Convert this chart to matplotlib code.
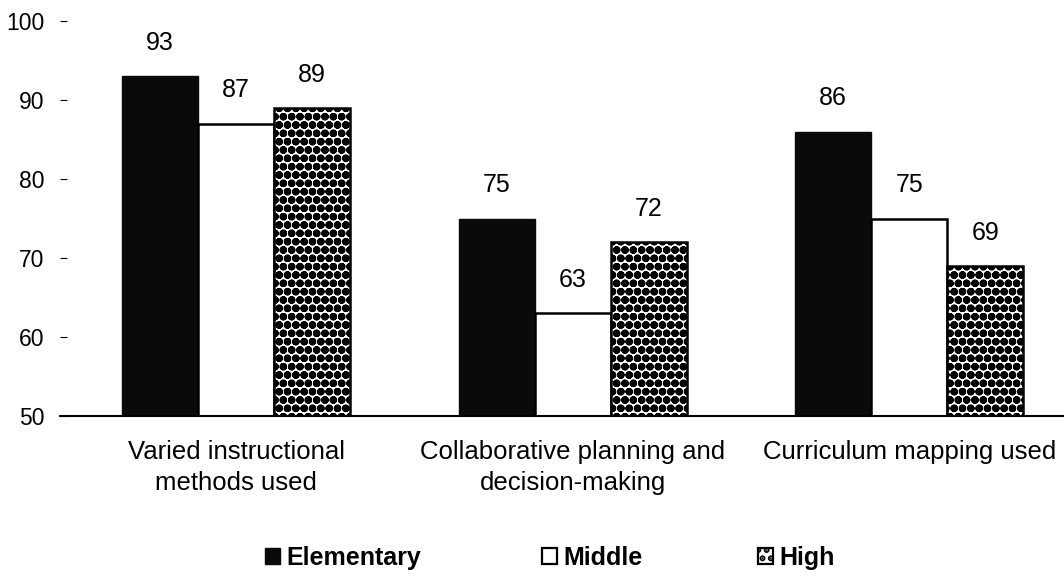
import matplotlib
matplotlib.use("Agg")
import matplotlib.pyplot as plt
from matplotlib.patches import Patch
import numpy as np

categories = ["Varied instructional\nmethods used",
              "Collaborative planning and\ndecision-making",
              "Curriculum mapping used"]
series = ["Elementary", "Middle", "High"]
elementary = [93, 75, 86]
middle = [87, 63, 75]
high = [89, 72, 69]
yticks = [50, 60, 70, 80, 90, 100]

plt.rcParams.update({"font.family": ["Liberation Sans", "DejaVu Sans"],
                     "hatch.linewidth": 3.0, "hatch.color": "black"})

fig = plt.figure(figsize=(10.64, 5.77), dpi=100)
ax = fig.add_axes([60 / 1064, 1 - 416 / 577, 1004 / 1064, 395 / 577])

x = np.arange(len(categories))
w = 0.226
styles = [dict(facecolor="#0a0a0a", edgecolor="#0a0a0a", linewidth=1),
          dict(facecolor="white", edgecolor="black", linewidth=1.8),
          dict(facecolor="white", edgecolor="black", hatch="oo", linewidth=1.8)]

for i, (vals, st) in enumerate(zip([elementary, middle, high], styles)):
    bars = ax.bar(x + (i - 1) * w, [v - 50 for v in vals], w, bottom=50, **st)
    for b, v in zip(bars, vals):
        ax.annotate(f"{v}", (b.get_x() + b.get_width() / 2, v),
                    xytext=(0, 24), textcoords="offset points",
                    ha="center", va="center", fontsize=18)

ax.set_xlim(-0.523, 2.46)
ax.set_ylim(50, 100)
ax.set_yticks(yticks)
ax.set_xticks(x)
ax.set_xticklabels(categories, fontsize=18.5, linespacing=1.4)
ax.tick_params(axis="x", length=0, pad=17)
ax.tick_params(axis="y", direction="in", length=5, width=0.8, pad=11, labelsize=16.5)
for s in ["top", "right", "left"]:
    ax.spines[s].set_visible(False)
ax.spines["bottom"].set_linewidth(1.5)
ax.patch.set_alpha(0)

handles = [Patch(**styles[0]),
           Patch(facecolor="white", edgecolor="black", linewidth=1.6),
           Patch(facecolor="white", edgecolor="black", hatch="..", linewidth=1.6)]
xs = [265, 542, 758]
for h, name, xp in zip(handles, series, xs):
    fig.legend(handles=[h], labels=[name], loc="center left",
               bbox_to_anchor=(xp / 1064, 1 - 558 / 577), frameon=False,
               handlelength=0.6, handleheight=0.6, handletextpad=0.25,
               borderpad=0, borderaxespad=0,
               prop={"weight": "bold", "size": 18})

fig.savefig("out.png", dpi=100)
